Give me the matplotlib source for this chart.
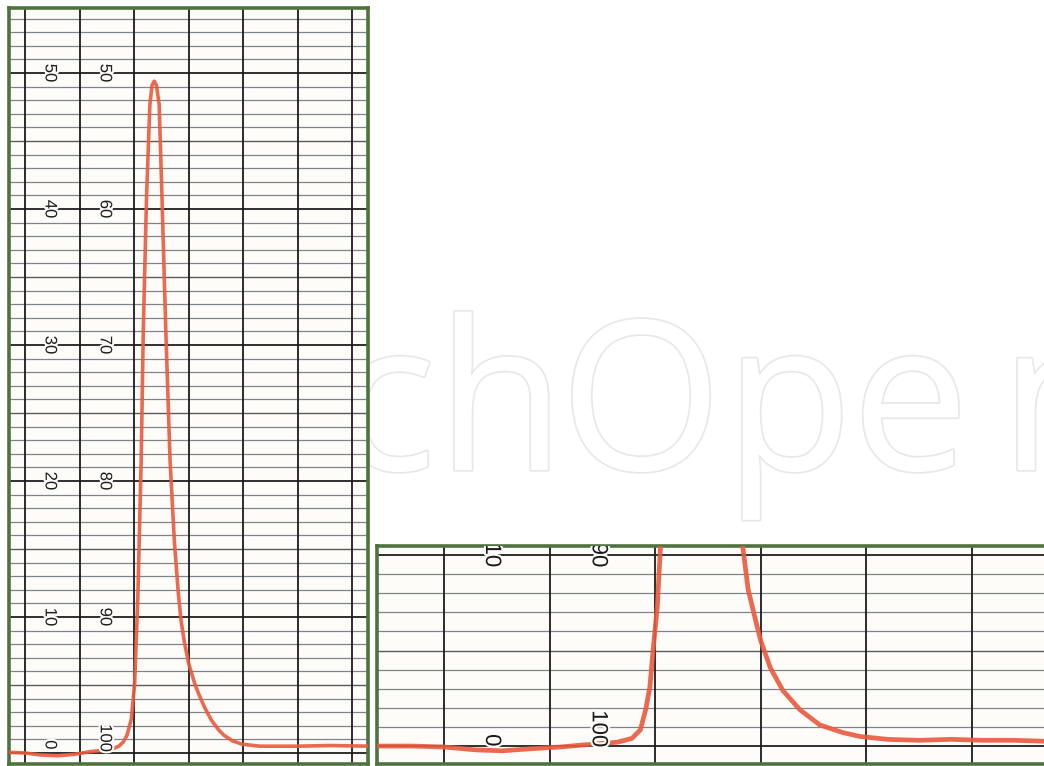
import matplotlib
matplotlib.use("Agg")
import matplotlib.pyplot as plt
import matplotlib.patheffects as pe

W, H = 1044, 766

# Left strip: full chromatogram. x = chart divisions, y = pen reading (0-50)
left_x = [-0.3, 0.0, 0.3, 0.6, 0.9, 1.2, 1.45, 1.6, 1.72, 1.8, 1.87, 1.95,
          2.01, 2.07, 2.13, 2.17, 2.23, 2.29, 2.33, 2.37, 2.41, 2.46, 2.51,
          2.58, 2.66, 2.74, 2.81, 2.86, 2.92, 3.0, 3.12, 3.2, 3.30, 3.42,
          3.55, 3.65, 3.8, 3.98, 4.3, 5.0, 5.6, 6.3]
left_y = [0.05, 0.0, -0.15, -0.2, -0.1, 0.1, 0.2, 0.3, 0.5, 0.8, 1.3, 2.5,
          5.1, 11.6, 21.5, 31.3, 41.1, 47.7, 49.1, 49.4, 49.1, 47.7, 41.1,
          31.3, 21.5, 15.5, 11.8, 9.8, 8.2, 6.6, 5.0, 4.2, 3.3, 2.4,
          1.7, 1.3, 0.9, 0.65, 0.5, 0.5, 0.55, 0.5]
left_scale_a = [0, 10, 20, 30, 40, 50]
left_scale_b = [100, 90, 80, 70, 60, 50]

# Right strip: magnified foot of the same peak
right_x = [-0.65, -0.3, 0.0, 0.3, 0.55, 0.8, 1.1, 1.41, 1.64, 1.78, 1.86,
           1.91, 1.95, 1.98, 2.02, 2.05, 2.09, 2.45, 2.76, 2.83, 2.88, 2.95,
           3.0, 3.09, 3.21, 3.37, 3.56, 3.78, 3.94, 4.2, 4.5, 4.8, 5.1, 5.4, 5.7]
right_y = [0.0, 0.0, -0.05, -0.2, -0.25, -0.15, -0.05, 0.1, 0.2, 0.4, 0.85,
           1.9, 3.1, 5.0, 7.3, 10.4, 15.0, 49.4, 14.0, 10.4, 8.2, 6.6,
           5.5, 4.1, 2.9, 1.9, 1.1, 0.7, 0.5, 0.35, 0.3, 0.35, 0.3, 0.3, 0.25]
right_scale_a = [0, 10]
right_scale_b = [100, 90]

# watermark letters and their left edges (px)
wm_letters = ["h", "O", "p", "e", "n"]
wm_left_px = [437, 560, 725, 852, 1000]

GREEN = "#4f7340"
TRACE = "#ea5a3c"
PAPER = "#fdfcf8"
LABEL_FONT = ["Liberation Sans", "DejaVu Sans"]


def add_box(fig, x0, y0, x1, y1):
    return fig.add_axes([x0 / W, 1 - y1 / H, (x1 - x0) / W, (y1 - y0) / H])


def chart_paper(ax, xlim, ylim, ncols, nrows):
    ax.set_xlim(*xlim)
    ax.set_ylim(*ylim)
    ax.set_facecolor(PAPER)
    ax.set_xticks([])
    ax.set_yticks([])
    for s in ax.spines.values():
        s.set_color(GREEN)
        s.set_linewidth(2.6)
    for r in range(0, nrows + 1):
        if r % 10 == 0:
            ax.axhline(r, color="#1f1f1f", lw=1.3, zorder=1)
        elif r % 5 == 0:
            ax.axhline(r, color="#3a3d44", lw=1.0, alpha=0.85, zorder=1)
        else:
            ax.axhline(r, color="#4a5062", lw=0.9, alpha=0.7, zorder=1)
    for c in range(0, ncols + 1):
        ax.axvline(c, color="#1c1c1c", lw=1.3, zorder=1)


fig = plt.figure(figsize=(W / 100, H / 100), dpi=100)
fig.patch.set_facecolor("white")

# faint publisher watermark behind the strips
wm = dict(fontsize=150, family="Open Sans", color="white", va="baseline",
          zorder=-5, path_effects=[pe.withStroke(linewidth=2.5, foreground="#e8e8e8")])
fig.text(436 / W, 1 - 470 / H, "c", ha="right", **wm)
for ch, px in zip(wm_letters, wm_left_px):
    fig.text(px / W, 1 - 470 / H, ch, ha="left", **wm)

halo = [pe.withStroke(linewidth=3, foreground=PAPER)]

# left strip
axl = add_box(fig, 9, 8, 368, 764)
chart_paper(axl, (-0.294, 6.29), (-0.81, 54.78), 6, 54)
axl.plot(left_x, left_y, color=TRACE, lw=2.6, alpha=0.9,
         solid_joinstyle="round", solid_capstyle="round", zorder=3)
for a, b in zip(left_scale_a, left_scale_b):
    ya = a if a > 0 else 0.6
    yb = a if a > 0 else 1.1
    axl.text(0.46, ya, str(a), rotation=270, ha="center", va="center",
             fontsize=12, family=LABEL_FONT, color="#1e1e1e", zorder=4,
             path_effects=halo)
    axl.text(1.47, yb, str(b), rotation=270, ha="center", va="center",
             fontsize=12, family=LABEL_FONT, color="#1e1e1e", zorder=4,
             path_effects=halo)

# right strip
axr = add_box(fig, 377, 546, 1047, 764)
chart_paper(axr, (-0.634, 5.71), (-0.94, 10.47), 5, 10)
axr.plot(right_x, right_y, color=TRACE, lw=3.4, alpha=0.9,
         solid_joinstyle="round", solid_capstyle="round", zorder=3)
for a, b in zip(right_scale_a, right_scale_b):
    ya = a if a > 0 else 0.3
    yb = a if a > 0 else 0.9
    axr.text(0.45, ya, str(a), rotation=270, ha="center", va="center",
             fontsize=16, family=LABEL_FONT, color="#1a1a1a", zorder=4,
             clip_on=True, path_effects=halo)
    axr.text(1.46, yb, str(b), rotation=270, ha="center", va="center",
             fontsize=16, family=LABEL_FONT, color="#1a1a1a", zorder=4,
             clip_on=True, path_effects=halo)

fig.savefig("out.png", dpi=100, facecolor="white")
